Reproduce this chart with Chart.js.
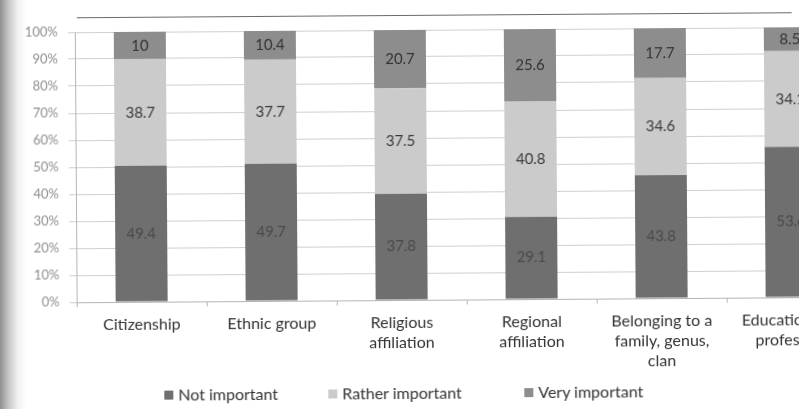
<!DOCTYPE html>
<html>
<head>
<meta charset="utf-8">
<script src="https://cdn.jsdelivr.net/npm/chart.js@4.4.1/dist/chart.umd.min.js"></script>
<style>
  html, body { margin: 0; padding: 0; }
  body {
    width: 799px; height: 409px; overflow: hidden;
    background: linear-gradient(to right, #8f8f8f 0px, #c4c4c4 8px, #f2f2f2 18px, #ffffff 26px);
    font-family: Lato, "Open Sans", sans-serif;
  }
  #frame { position: absolute; left: 0; top: 0; width: 870px; height: 409px;
           transform: rotate(-0.4deg); transform-origin: 400px 205px; }
  #rule { position: absolute; left: 78px; top: 15px; width: 715px; border-top: 1px solid #6a6a6a; }
  #legend { position: absolute; top: 384px; left: 0; font-size: 16px; color: #333; }
  .item { position: absolute; white-space: nowrap; line-height: 18px; }
  .box { display: inline-block; width: 9px; height: 9px; margin-right: 5px; vertical-align: 1px; }
</style>
</head>
<body>
<div id="frame">
  <div id="rule"></div>
  <canvas id="myChart" width="870" height="409"></canvas>
  <div id="legend"></div>
</div>
<script>
const categories = [
    ['Citizenship'],
    ['Ethnic group'],
    ['Religious', 'affiliation'],
    ['Regional', 'affiliation'],
    ['Belonging to a', 'family, genus,', 'clan'],
    ['Education and', 'profession']
];
const seriesNames = ['Not important', 'Rather important', 'Very important'];
const notImportant = [49.4, 49.7, 37.8, 29.1, 43.8, 53.6];
const ratherImportant = [38.7, 37.7, 37.5, 40.8, 34.6, 34.1];
const veryImportant = [10, 10.4, 20.7, 25.6, 17.7, 8.5];
const colors = ['#6f6f6f', '#cbcbcb', '#8d8d8d'];
const labelColors = ['#4a4a4a', '#3a3a3a', '#333333'];

const raw = [notImportant, ratherImportant, veryImportant];

// 100% stacked: share of each category total
const totals = categories.map((c, i) => raw.reduce((s, arr) => s + arr[i], 0));
const shares = raw.map(arr => arr.map((v, i) => v / totals[i] * 100));

const valueLabels = {
    id: 'valueLabels',
    afterDatasetsDraw(chart) {
        const c = chart.ctx;
        c.save();
        c.font = '15px Lato, sans-serif';
        c.textAlign = 'center';
        c.textBaseline = 'middle';
        chart.data.datasets.forEach((ds, di) => {
            const meta = chart.getDatasetMeta(di);
            c.fillStyle = labelColors[di];
            meta.data.forEach((bar, i) => {
                c.fillText(String(raw[di][i]), bar.x, (bar.y + bar.base) / 2);
            });
        });
        c.restore();
    }
};

const ctx = document.getElementById('myChart');

const stackChart = new Chart(ctx, {
    type: 'bar',
    data: {
        labels: categories,
        datasets: seriesNames.map((name, i) => ({
            label: name,
            data: shares[i],
            backgroundColor: colors[i],
            borderWidth: 0,
            categoryPercentage: 1,
            barPercentage: 0.4
        }))
    },
    options: {
        responsive: false,
        animation: false,
        devicePixelRatio: 1,
        layout: { padding: { top: 30, left: 0, right: 14, bottom: 0 } },
        plugins: {
            legend: { display: false },
            tooltip: { enabled: false }
        },
        scales: {
            x: {
                stacked: true,
                afterFit: (scale) => { scale.height = 109; },
                grid: { display: true, drawOnChartArea: false, drawTicks: true, tickLength: 5, color: '#b5b5b5', offset: true },
                border: { color: '#b5b5b5' },
                ticks: {
                    color: '#333',
                    padding: 8,
                    maxRotation: 0,
                    autoSkip: false,
                    font: { family: 'Lato', size: 16, lineHeight: 1.25 }
                }
            },
            y: {
                stacked: true,
                min: 0,
                max: 100,
                afterFit: (scale) => { scale.width = 76; },
                grid: { color: '#cfcfcf', tickLength: 7 },
                border: { color: '#b5b5b5' },
                ticks: {
                    stepSize: 10,
                    padding: 10,
                    color: '#8e8e8e',
                    font: { family: 'Lato', size: 13 },
                    callback: (v) => v + '%'
                }
            }
        }
    },
    plugins: [valueLabels]
});

// legend below the chart
const legendPos = [163, 327, 523];
const legendEl = document.getElementById('legend');
seriesNames.forEach((name, i) => {
    const item = document.createElement('div');
    item.className = 'item';
    item.style.left = legendPos[i] + 'px';
    item.innerHTML = '<span class="box" style="background:' + colors[i] + '"></span>' + name;
    legendEl.appendChild(item);
});
</script>
</body>
</html>
